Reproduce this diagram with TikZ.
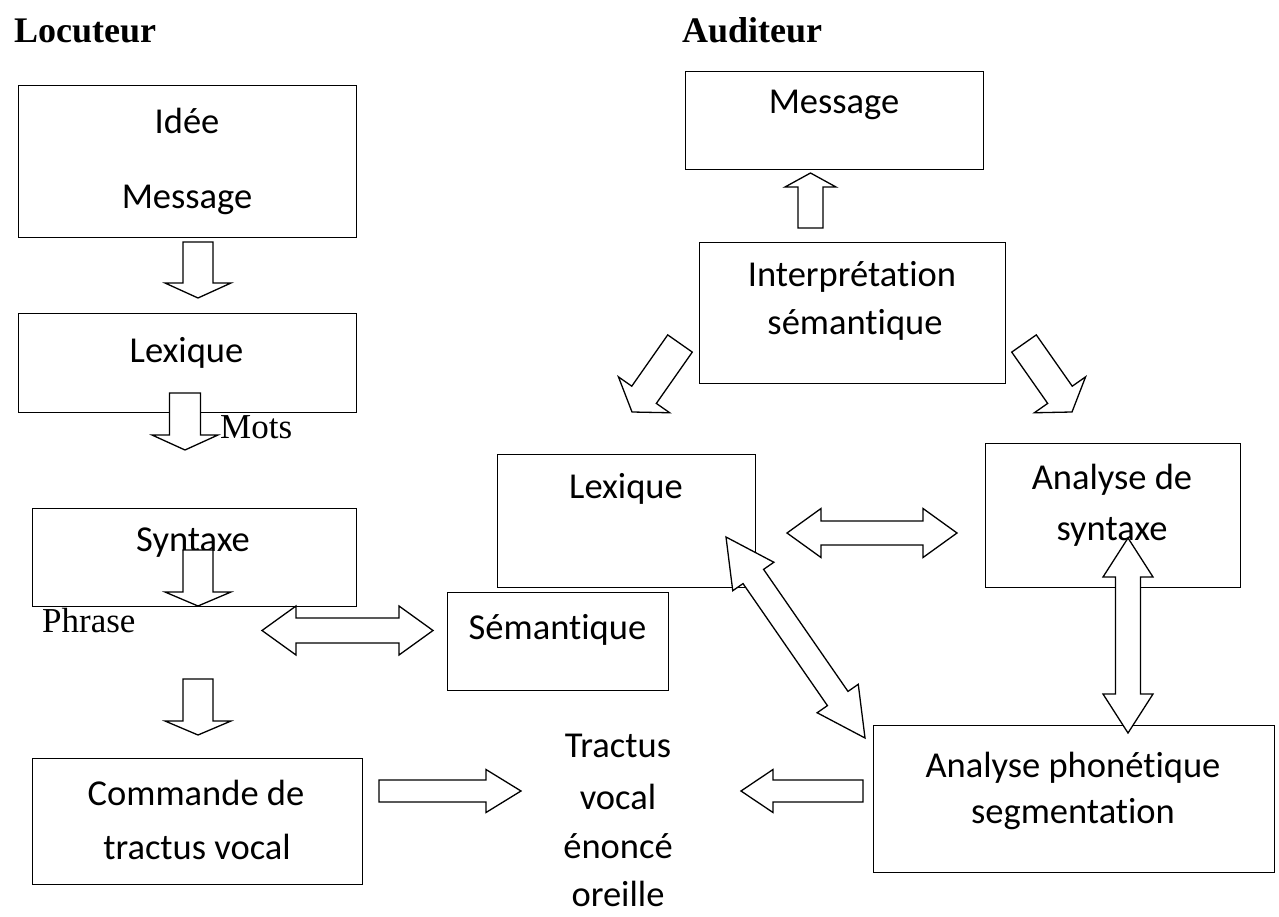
\documentclass[tikz,border=0pt]{standalone}
\usepackage{fontspec}
\setmainfont[Ligatures=CommonOff]{Carlito}
\newfontfamily\tnr{Liberation Serif}
\usetikzlibrary{calc}
\tikzset{
  box/.style={draw, line width=1.3pt, inner sep=0pt, anchor=north west},
  lbl/.style={inner sep=0pt, font=\fontsize{36.5}{44}\selectfont},
  ttl/.style={inner sep=0pt, anchor=base west, font=\tnr\bfseries\fontsize{36}{44}\selectfont},
  serif/.style={inner sep=0pt, anchor=base west, font=\tnr\fontsize{35}{42}\selectfont},
  blk/.style={draw, fill=white, line width=1.3pt, line join=miter},
}
% single block arrow: from, to, half shaft, half head, head length
\newcommand{\sarr}[5]{%
  \draw[blk] let \p1=(#1), \p2=(#2), \n1={atan2(\y2-\y1,\x2-\x1)} in
    ($(\p1)+(\n1+90:#3pt)$)
    -- ($(\p2)+(\n1+180:#5pt)+(\n1+90:#3pt)$)
    -- ($(\p2)+(\n1+180:#5pt)+(\n1+90:#4pt)$)
    -- (\p2)
    -- ($(\p2)+(\n1+180:#5pt)+(\n1-90:#4pt)$)
    -- ($(\p2)+(\n1+180:#5pt)+(\n1-90:#3pt)$)
    -- ($(\p1)+(\n1-90:#3pt)$) -- cycle;}
% double block arrow
\newcommand{\darr}[5]{%
  \draw[blk] let \p1=(#1), \p2=(#2), \n1={atan2(\y2-\y1,\x2-\x1)} in
    (\p1)
    -- ($(\p1)+(\n1:#5pt)+(\n1+90:#4pt)$)
    -- ($(\p1)+(\n1:#5pt)+(\n1+90:#3pt)$)
    -- ($(\p2)+(\n1+180:#5pt)+(\n1+90:#3pt)$)
    -- ($(\p2)+(\n1+180:#5pt)+(\n1+90:#4pt)$)
    -- (\p2)
    -- ($(\p2)+(\n1+180:#5pt)+(\n1-90:#4pt)$)
    -- ($(\p2)+(\n1+180:#5pt)+(\n1-90:#3pt)$)
    -- ($(\p1)+(\n1:#5pt)+(\n1-90:#3pt)$)
    -- ($(\p1)+(\n1:#5pt)+(\n1-90:#4pt)$) -- cycle;}
\begin{document}
\begin{tikzpicture}[x=1pt,y=-1pt]
\useasboundingbox (0,0) rectangle (1279,917);
% titles
\node[ttl] (loc) at (14,43) {Locuteur};
\node[ttl] (aud) at (682,43) {Auditeur};
% boxes
\node[box, minimum width=338, minimum height=152] (b1) at (18,85) {};
\node[box, minimum width=338, minimum height=99] (blexl) at (18,313) {};
\node[box, minimum width=324, minimum height=98] (bsyn) at (32,508) {};
\node[box, minimum width=330, minimum height=126] (bcmd) at (32,758) {};
\node[box, minimum width=298, minimum height=98] (bmsgr) at (685,71) {};
\node[box, minimum width=306, minimum height=141] (bint) at (699,242) {};
\node[box, minimum width=258, minimum height=133] (blexr) at (497,454) {};
\node[box, minimum width=221, minimum height=98] (bsem) at (447,592) {};
\node[box, minimum width=255, minimum height=144] (banas) at (985,443) {};
\node[box, minimum width=401, minimum height=147] (banap) at (873,725) {};
% texts
\node[lbl] (tidee) at (187,121) {Idée};
\node[lbl] (tmsgl) at (187,200) {Message};
\node[lbl] (tlexl) at (186.5,353) {Lexique};
\node[lbl] (tsyn) at (193,543) {Syntaxe};
\node[lbl] (tcmd1) at (196,793) {Commande de};
\node[lbl] (tcmd2) at (197,847) {tractus vocal};
\node[lbl] (tmsgr) at (834,105) {Message};
\node[lbl] (tint1) at (852,277) {Interprétation};
\node[lbl] (tint2) at (855,325) {sémantique};
\node[lbl] (tlexr) at (626,489) {Lexique};
\node[lbl] (tsem) at (557.5,630) {Sémantique};
\node[lbl] (tanas1) at (1112,480) {Analyse de};
\node[lbl] (tanas2) at (1112,532) {syntaxe};
\node[lbl] (tanap1) at (1073,768) {Analyse phonétique};
\node[lbl] (tanap2) at (1073,814) {segmentation};
\node[lbl] (ttr1) at (618,746) {Tractus};
\node[lbl] (ttr2) at (618,797) {vocal};
\node[lbl] (ttr3) at (618,846) {énoncé};
\node[lbl] (ttr4) at (618,894) {oreille};
\node[serif] (mots) at (220,438) {Mots};
\node[serif] (phr) at (42,632) {Phrase};
% arrow end points
\coordinate (a1s) at (198,242);   \coordinate (a1e) at (198,298);
\coordinate (a2s) at (185,393);   \coordinate (a2e) at (185,450);
\coordinate (a3s) at (198,550);   \coordinate (a3e) at (198,606);
\coordinate (a4s) at (198,679);   \coordinate (a4e) at (198,735);
\coordinate (r1s) at (379,791);   \coordinate (r1e) at (521,791);
\coordinate (l1s) at (863,791);   \coordinate (l1e) at (741,791);
\coordinate (u1s) at (810.5,228); \coordinate (u1e) at (810.5,173);
\coordinate (d1s) at (680,343.5); \coordinate (d1e) at (632,412);
\coordinate (d2s) at (1024,343.5);\coordinate (d2e) at (1072,412);
\coordinate (h1s) at (262,630.5); \coordinate (h1e) at (433,630.5);
\coordinate (h2s) at (787,533);   \coordinate (h2e) at (957,533);
\coordinate (dds) at (726,537);   \coordinate (dde) at (865,738);
\coordinate (vvs) at (1128,538);  \coordinate (vve) at (1128,733);
% block arrows
\sarr{a1s}{a1e}{15}{33}{15}
\sarr{a2s}{a2e}{15.5}{33}{15}
\sarr{a3s}{a3e}{15}{33}{14}
\sarr{a4s}{a4e}{15}{33}{14}
\sarr{r1s}{r1e}{11}{21.5}{35}
\sarr{l1s}{l1e}{11}{21.5}{32}
\sarr{u1s}{u1e}{12.5}{25.5}{14}
\sarr{d1s}{d1e}{15}{31.3}{21}
\sarr{d2s}{d2e}{15}{31.3}{21}
\darr{h1s}{h1e}{12.5}{24.5}{34}
\darr{h2s}{h2e}{12}{24.5}{34}
\darr{dds}{dde}{12.5}{25}{48}
\darr{vvs}{vve}{12.5}{25}{39}
\end{tikzpicture}
\end{document}
